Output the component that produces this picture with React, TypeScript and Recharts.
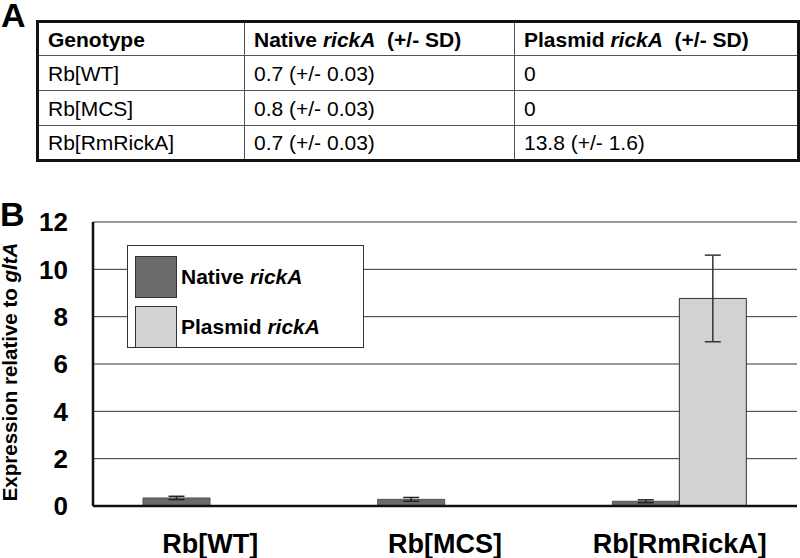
import React from 'react';
import { BarChart, Bar, XAxis, YAxis, CartesianGrid, ErrorBar, Legend, Label } from 'recharts';

const categories = ['Rb[WT]', 'Rb[MCS]', 'Rb[RmRickA]'];
const nativeValues = [0.34, 0.28, 0.2];
const nativeErrors = [0.07, 0.08, 0.06];
const plasmidValues = [0, 0, 8.77];
const plasmidErrors: (number | null)[] = [null, null, 1.83];
const yTicks = [0, 2, 4, 6, 8, 10, 12];
const seriesNames = ['Native rickA', 'Plasmid rickA'];

const tableGenotypes = ['Rb[WT]', 'Rb[MCS]', 'Rb[RmRickA]'];
const tableNative = ['0.7 (+/- 0.03)', '0.8 (+/- 0.03)', '0.7 (+/- 0.03)'];
const tablePlasmid = ['0', '0', '13.8 (+/- 1.6)'];

const FONT = '"Liberation Sans", Arial, Helvetica, sans-serif';
const NATIVE_COLOR = '#6b6b6b';
const PLASMID_COLOR = '#d2d2d2';

const data = categories.map((c, i) => ({
  category: c,
  native: nativeValues[i],
  nativeErr: nativeErrors[i],
  plasmid: plasmidValues[i],
  plasmidErr: plasmidErrors[i],
}));

function ItalicName({ name }: { name: string }) {
  const parts = name.split(' ');
  return (
    <span>
      {parts[0]} <i>{parts.slice(1).join(' ')}</i>
    </span>
  );
}

function renderLegend(props: any) {
  const payload = props.payload || [];
  return (
    <div
      style={{
        width: 237,
        height: 103,
        boxSizing: 'border-box',
        border: '1px solid #333',
        background: '#fff',
        paddingTop: 6,
        paddingLeft: 7,
        fontFamily: FONT,
      }}
    >
      {payload.map((entry: any, i: number) => (
        <div key={i} style={{ display: 'flex', alignItems: 'center', height: 50 }}>
          <div
            style={{
              width: 42,
              height: 42,
              boxSizing: 'border-box',
              background: entry.color,
              border: '1px solid #333',
              marginRight: 4,
            }}
          />
          <div style={{ fontSize: 21, fontWeight: 'bold', color: '#000', whiteSpace: 'nowrap' }}>
            <ItalicName name={String(entry.value)} />
          </div>
        </div>
      ))}
    </div>
  );
}

function YLabel(props: any) {
  const vb = props.viewBox || { x: 33, y: 222, width: 60, height: 284 };
  const x = vb.x - 16;
  const y = vb.y + vb.height / 2 + 8;
  return (
    <text
      x={x}
      y={y}
      transform={`rotate(-90, ${x}, ${y})`}
      textAnchor="middle"
      fontSize={20.5}
      fontWeight="bold"
      fill="#000"
      fontFamily={FONT}
    >
      <tspan>Expression relative to </tspan>
      <tspan fontStyle="italic">gltA</tspan>
    </text>
  );
}

const cellStyle: React.CSSProperties = {
  border: '1px solid #555',
  padding: '0 0 0 9px',
  verticalAlign: 'middle',
  lineHeight: 1,
  whiteSpace: 'pre',
};

export default function App() {
  return (
    <div style={{ position: 'absolute', left: 0, top: 0, width: 800, height: 558, background: '#fff', overflow: 'hidden' }}>
      <div style={{ position: 'absolute', left: 1, top: -2, fontFamily: FONT, fontWeight: 'bold', fontSize: 34, lineHeight: '34px', color: '#000' }}>A</div>
      <div style={{ position: 'absolute', left: 0, top: 197, fontFamily: FONT, fontWeight: 'bold', fontSize: 34, lineHeight: '34px', color: '#000' }}>B</div>

      <table
        style={{
          position: 'absolute',
          left: 36,
          top: 20,
          width: 761,
          height: 139,
          borderCollapse: 'collapse',
          tableLayout: 'fixed',
          border: '3px solid #111',
          fontFamily: FONT,
          fontSize: 21,
          color: '#000',
        }}
      >
        <colgroup>
          <col style={{ width: 207 }} />
          <col style={{ width: 270 }} />
          <col style={{ width: 284 }} />
        </colgroup>
        <tbody>
          <tr style={{ height: 34 }}>
            <td style={{ ...cellStyle, fontWeight: 'bold' }}>Genotype</td>
            <td style={{ ...cellStyle, fontWeight: 'bold' }}>
              Native <i>rickA</i>{'  (+/- SD)'}
            </td>
            <td style={{ ...cellStyle, fontWeight: 'bold' }}>
              Plasmid <i>rickA</i>{'  (+/- SD)'}
            </td>
          </tr>
          {tableGenotypes.map((g, i) => (
            <tr key={g} style={{ height: 35 }}>
              <td style={cellStyle}>{g}</td>
              <td style={cellStyle}>{tableNative[i]}</td>
              <td style={cellStyle}>{tablePlasmid[i]}</td>
            </tr>
          ))}
        </tbody>
      </table>

      <div style={{ position: 'absolute', left: 0, top: 0 }}>
        <BarChart
          width={800}
          height={558}
          data={data}
          margin={{ top: 222, right: 3, bottom: 12, left: 33 }}
          barGap={0}
          barSize={67}
          style={{ fontFamily: FONT }}
        >
          <CartesianGrid vertical={false} stroke="#333" strokeWidth={1} />
          <XAxis
            dataKey="category"
            interval={0}
            tickLine={false}
            tickSize={0}
            tickMargin={28}
            height={40}
            axisLine={{ stroke: '#111', strokeWidth: 2.5 }}
            tick={{ fontSize: 27, fontWeight: 'bold', fill: '#000', fontFamily: FONT }}
          />
          <XAxis
            xAxisId="top"
            orientation="top"
            dataKey="category"
            height={0}
            tick={false}
            tickLine={false}
            axisLine={{ stroke: '#111', strokeWidth: 2.5 }}
          />
          <YAxis
            domain={[0, 12]}
            ticks={yTicks}
            width={60}
            tickLine={false}
            tickSize={0}
            tickMargin={25}
            axisLine={{ stroke: '#111', strokeWidth: 2.5 }}
            tick={{ fontSize: 26, fontWeight: 'bold', fill: '#000', fontFamily: FONT }}
          >
            <Label content={<YLabel />} />
          </YAxis>
          <YAxis
            yAxisId="right"
            orientation="right"
            width={0}
            domain={[0, 12]}
            tick={false}
            tickLine={false}
            axisLine={{ stroke: '#111', strokeWidth: 2.5 }}
          />
          <Legend
            layout="horizontal"
            verticalAlign="middle"
            align="center"
            content={renderLegend}
            wrapperStyle={{ position: 'absolute', left: 127, top: 245, width: 237, height: 103 }}
          />
          <Bar dataKey="native" name={seriesNames[0]} fill={NATIVE_COLOR} stroke="#555" strokeWidth={1} isAnimationActive={false}>
            <ErrorBar dataKey="nativeErr" width={8} stroke="#222" strokeWidth={1.5} direction="y" />
          </Bar>
          <Bar dataKey="plasmid" name={seriesNames[1]} fill={PLASMID_COLOR} stroke="#333" strokeWidth={1} isAnimationActive={false}>
            <ErrorBar dataKey="plasmidErr" width={8} stroke="#333" strokeWidth={1.5} direction="y" />
          </Bar>
        </BarChart>
      </div>
    </div>
  );
}
